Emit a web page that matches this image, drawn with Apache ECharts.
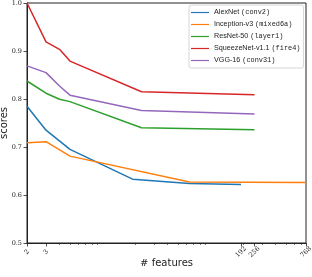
<!DOCTYPE html>
<html><head><meta charset="utf-8">
<script src="https://cdn.jsdelivr.net/npm/echarts@6/dist/echarts.min.js"></script>
<style>html,body{margin:0;padding:0;background:#fff}#c{width:312px;height:277px}</style>
</head><body><div id="c"></div>
<script>
// ---- data ----
const seriesNames = ['AlexNet', 'Inception-v3', 'ResNet-50', 'SqueezeNet-v1.1', 'VGG-16'];
const seriesLayers = ['conv2', 'mixed6a', 'layer1', 'fire4', 'conv31'];
const alexN = [2, 3, 5, 19, 64, 192];
const alexS = [0.785, 0.735, 0.695, 0.633, 0.624, 0.622];
const incN = [2, 3, 5, 64, 768];
const incS = [0.709, 0.711, 0.681, 0.627, 0.626];
const resN = [2, 3, 4, 5, 23, 256];
const resS = [0.8375, 0.812, 0.7995, 0.7945, 0.740, 0.736];
const sqN = [2, 3, 4, 5, 23, 256];
const sqS = [1.0, 0.919, 0.9035, 0.879, 0.815, 0.809];
const vggN = [2, 3, 4, 5, 23, 256];
const vggS = [0.869, 0.855, 0.827, 0.808, 0.776, 0.769];
const xTickLabels = [2, 3, 192, 256, 768];
const xMinorTicks = [4, 5, 6, 7, 8, 9, 20, 30, 40, 50, 60, 70, 80, 90, 200, 300, 400, 500, 600, 700];
const yTicks = [0.5, 0.6, 0.7, 0.8, 0.9, 1.0];
const colors = ['#1f77b4', '#ff7f0e', '#2ca02c', '#d62728', '#9467bd'];

const L = Math.log10;
const xsets = [alexN, incN, resN, sqN, vggN];
const ysets = [alexS, incS, resS, sqS, vggS];
const labelMap = {};
seriesNames.forEach((n, i) => labelMap[n] = seriesLayers[i]);

const chart = echarts.init(document.getElementById('c'), null, {renderer: 'canvas'});
const serif = 'DejaVu Serif';
chart.setOption({
  animation: false,
  grid: {left: 27, right: 6, top: 3, bottom: 34, containLabel: false, outerBoundsMode: 'none',
         show: true, borderColor: '#222', borderWidth: 1, backgroundColor: 'transparent'},
  legend: {
    orient: 'vertical', left: 189, top: 5,
    padding: [3, 3, 3, 2], itemGap: 3, itemWidth: 18, itemHeight: 9,
    backgroundColor: '#fff', borderColor: '#ccc', borderWidth: 0.8, borderRadius: 2,
    data: seriesNames.map((n, i) => ({name: n, icon: 'path://M0,3.9L18,3.9L18,5.1L0,5.1Z'})),
    formatter: n => '{a|' + n + '} {b|(' + labelMap[n] + ')}',
    textStyle: {
      fontSize: 7, lineHeight: 9,
      rich: {
        a: {fontFamily: 'Liberation Sans', fontSize: 7.2, color: '#222', lineHeight: 9},
        b: {fontFamily: 'Liberation Mono', fontSize: 6.9, color: '#222', lineHeight: 9}
      }
    }
  },
  xAxis: [{
    type: 'value', min: L(2), max: L(768),
    name: '{h|#} {f|features}', nameLocation: 'middle', nameGap: 14, nameMoveOverlap: false,
    nameTextStyle: {rich: {h: {fontFamily: serif, fontSize: 10, color: '#222'}, f: {fontFamily: 'DejaVu Sans', fontSize: 10, color: '#222'}}},
    splitLine: {show: false},
    axisLine: {show: true, lineStyle: {color: '#222', width: 1}},
    axisTick: {show: true, length: 3.5, lineStyle: {color: '#222', width: 0.8}, customValues: xTickLabels.map(L)},
    axisLabel: {
      customValues: xTickLabels.map(L), rotate: 45, align: 'center', verticalAlign: 'middle', margin: 9,
      fontFamily: serif, fontSize: 6.5, color: '#222',
      formatter: v => String(Math.round(Math.pow(10, v)))
    }
  }, {
    type: 'value', min: L(2), max: L(768), position: 'bottom', gridIndex: 0,
    splitLine: {show: false}, axisLine: {show: false}, axisLabel: {show: false},
    axisTick: {show: true, length: 2, lineStyle: {color: '#222', width: 0.6}, customValues: xMinorTicks.map(L)}
  }],
  yAxis: {
    type: 'value', min: 0.5, max: 1.0, interval: 0.1,
    name: 'scores', nameLocation: 'middle', nameGap: 18, nameMoveOverlap: false,
    nameTextStyle: {fontFamily: 'DejaVu Sans', fontSize: 10, color: '#222'},
    splitLine: {show: false},
    axisLine: {show: true, lineStyle: {color: '#222', width: 1}},
    axisTick: {show: true, length: 3.5, lineStyle: {color: '#222', width: 0.8}},
    axisLabel: {fontFamily: serif, fontSize: 6.5, color: '#222', margin: 5, formatter: v => v.toFixed(1)}
  },
  series: seriesNames.map((n, i) => ({
    name: n, type: 'line', xAxisIndex: 0, showSymbol: false, symbol: 'none',
    color: colors[i],
    lineStyle: {width: 1.5, color: colors[i]},
    data: xsets[i].map((x, j) => [L(x), ysets[i][j]])
  }))
});
</script></body></html>
